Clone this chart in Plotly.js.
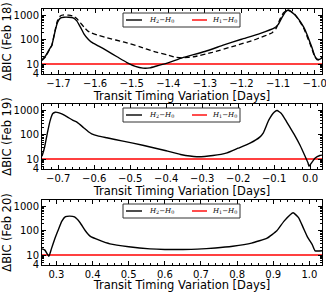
<!DOCTYPE html>
<html><head><meta charset="utf-8">
<script src="https://cdn.plot.ly/plotly-3.0.1.min.js"></script>
<style>html,body{margin:0;padding:0;background:#fff}#c{width:326px;height:292px}</style>
</head><body><div id="c"></div>
<script>
// Panel 1 (Feb 18)
const feb18X = [-1.745,-1.735,-1.725,-1.718,-1.710,-1.703,-1.695,-1.685,-1.672,-1.660,-1.650,-1.640,-1.630,-1.620,-1.610,-1.590,-1.567,-1.540,-1.513,-1.490,-1.469,-1.450,-1.430,-1.403,-1.362,-1.30,-1.25,-1.20,-1.15,-1.111,-1.100,-1.090,-1.080,-1.074,-1.065,-1.055,-1.043,-1.030,-1.021,-1.013,-1.007,-1.000,-0.993,-0.985,-0.980];
const feb18Solid = [15,22,40,60,200,500,780,850,850,800,600,330,170,110,80,55,35,20,11.5,8,6.8,7,8.5,11,18,33,60,105,180,300,420,800,1400,1650,1450,1100,680,330,165,80,46,22,16,16,19];
const feb18DashX = [-1.745,-1.735,-1.725,-1.718,-1.710,-1.703,-1.695,-1.685,-1.672,-1.660,-1.650,-1.640,-1.630,-1.620,-1.610,-1.590,-1.567,-1.52,-1.477,-1.44,-1.403,-1.38,-1.362,-1.33,-1.28,-1.22,-1.16,-1.116,-1.105,-1.095,-1.085,-1.074,-1.065,-1.055,-1.043,-1.030,-1.021,-1.013,-1.007,-1.000,-0.993,-0.985,-0.980];
const feb18Dash = [14,20,38,60,220,600,950,1050,1030,950,750,500,330,230,190,150,120,80,51,33,24,19,18,20,30,55,105,195,300,700,1300,1700,1500,1150,650,300,140,70,40,20,15,15,18];
// Panel 2 (Feb 19)
const feb19X = [-0.745,-0.738,-0.730,-0.722,-0.715,-0.708,-0.700,-0.690,-0.675,-0.660,-0.648,-0.630,-0.615,-0.607,-0.590,-0.565,-0.52,-0.465,-0.40,-0.36,-0.315,-0.27,-0.231,-0.20,-0.167,-0.14,-0.13,-0.115,-0.100,-0.092,-0.080,-0.068,-0.056,-0.042,-0.028,-0.014,-0.006,-0.003,0.004,0.014,0.027,0.033];
const feb19Solid = [13,30,120,400,750,850,820,720,550,400,330,200,130,110,90,75,55,37,22,15.5,12.5,14,18,28,45,80,120,400,850,1000,750,400,200,90,37,13,7,5,7,11,14,14.5];
// Panel 3 (Feb 20)
const feb20X = [0.260,0.268,0.279,0.286,0.295,0.304,0.315,0.325,0.337,0.350,0.365,0.380,0.393,0.420,0.448,0.50,0.559,0.60,0.65,0.69,0.74,0.788,0.84,0.883,0.91,0.930,0.955,0.970,0.983,0.995,1.008,1.016,1.035];
const feb20Solid = [18,16,9,18,45,100,250,380,400,370,220,100,60,40,29,22,18,17,17,17.5,19.5,23,31,50,100,250,550,350,135,55,27,15,15];
// H1 - H0 level
const h1Level = 10;
const xRanges = [[-1.745,-0.98],[-0.745,0.033],[0.26,1.035]];
const yTickVals = [4,10,100,1000];
const yTickText = ['4','10','100','1000'];
const yTitles = ['ΔBIC (Feb 18)','ΔBIC (Feb 19)','ΔBIC (Feb 20)'];
const xTitle = 'Transit Timing Variation [Days]';
const h2Name = '<i>H</i><sub>2</sub>\u2212<i>H</i><sub>0</sub>';
const h1Name = '<i>H</i><sub>1</sub>\u2212<i>H</i><sub>0</sub>';

const panels = [
  {x: feb18X, y: feb18Solid},
  {x: feb19X, y: feb19Solid},
  {x: feb20X, y: feb20Solid}
];
const traces = [];
panels.forEach((p,i)=>{
  const ax = i===0?'':String(i+1);
  traces.push({x:xRanges[i],y:[h1Level,h1Level],xaxis:'x'+ax,yaxis:'y'+ax,mode:'lines',name:'H1-H0',
    showlegend:false,line:{color:'#ff0000',width:1.4}});
  traces.push({x:p.x,y:p.y,xaxis:'x'+ax,yaxis:'y'+ax,mode:'lines',name:'H2-H0',showlegend:false,
    line:{color:'#000',width:1.4,shape:'spline',smoothing:0.4}});
  if(i===0){
    traces.push({x:feb18DashX,y:feb18Dash,xaxis:'x',yaxis:'y',mode:'lines',showlegend:false,
      line:{color:'#000',width:1.3,dash:'5px,3px',shape:'spline',smoothing:0.4}});
  }
});

const plotH=256;
const doms = [[9,74],[104,169],[200,265]].map(([a,b])=>[(265-b)/plotH,(265-a)/plotH]);
const font = {family:'DejaVu Sans, sans-serif',size:11,color:'#000'};
const shapes=[], annotations=[];
const layout = {width:326,height:292,margin:{l:42,r:4,t:9,b:27},showlegend:false,
  paper_bgcolor:'#fff',plot_bgcolor:'#fff',font:font,shapes:shapes,annotations:annotations};
const fx = px => (px-42)/280;
for(let i=0;i<3;i++){
  const ax = i===0?'':String(i+1);
  layout['xaxis'+ax] = {domain:[0,1],anchor:'y'+ax,range:xRanges[i],dtick:0.1,tick0:0,
    ticks:'inside',ticklen:4,tickcolor:'#000',mirror:'allticks',showline:true,linecolor:'#000',linewidth:1,
    showgrid:false,zeroline:false,tickfont:{size:10},tickformat:'.1f',ticklabeloverflow:'allow',
    minor:{dtick:0.02,ticks:'inside',ticklen:2,tickcolor:'#000',showgrid:false},
    title:{text:xTitle,font:{size:11.5},standoff:3}};
  layout['yaxis'+ax] = {domain:doms[i],anchor:'x'+ax,type:'log',range:[Math.log10(3.9),Math.log10(1850)],
    tickvals:yTickVals,ticktext:yTickText,ticks:'inside',ticklen:4,tickcolor:'#000',mirror:'allticks',
    showline:true,linecolor:'#000',linewidth:1,showgrid:false,zeroline:false,tickfont:{size:10},
    minor:{ticks:'inside',ticklen:2,tickcolor:'#000',showgrid:false,tickvals:[5,6,7,8,9,20,30,40,50,60,70,80,90,200,300,400,500,600,700,800,900]},
    title:{text:yTitles[i],font:{size:11.5},standoff:2}};
  // legend box (drawn in axis-domain coordinates)
  const xr='x'+ax+' domain', yr='y'+ax+' domain';
  const yTop = 1-4/65, yBot = 1-18/65, yMid = 1-11/65;
  shapes.push({type:'rect',xref:xr,yref:yr,x0:fx(123),x1:fx(240),y0:yBot,y1:yTop,
    line:{color:'#333',width:1},fillcolor:'#fff',layer:'above'});
  shapes.push({type:'line',xref:xr,yref:yr,x0:fx(126),x1:fx(142),y0:yMid,y1:yMid,
    line:{color:'#000',width:1.4},layer:'above'});
  shapes.push({type:'line',xref:xr,yref:yr,x0:fx(192),x1:fx(207),y0:yMid,y1:yMid,
    line:{color:'#ff0000',width:1.4},layer:'above'});
  annotations.push({xref:xr,yref:yr,x:fx(147),y:yMid,xanchor:'left',yanchor:'middle',showarrow:false,
    text:h2Name,font:{family:'DejaVu Serif, serif',size:7,color:'#000'}});
  annotations.push({xref:xr,yref:yr,x:fx(210),y:yMid,xanchor:'left',yanchor:'middle',showarrow:false,
    text:h1Name,font:{family:'DejaVu Serif, serif',size:7,color:'#000'}});
}
Plotly.newPlot('c',traces,layout,{staticPlot:true,displayModeBar:false});
</script></body></html>
